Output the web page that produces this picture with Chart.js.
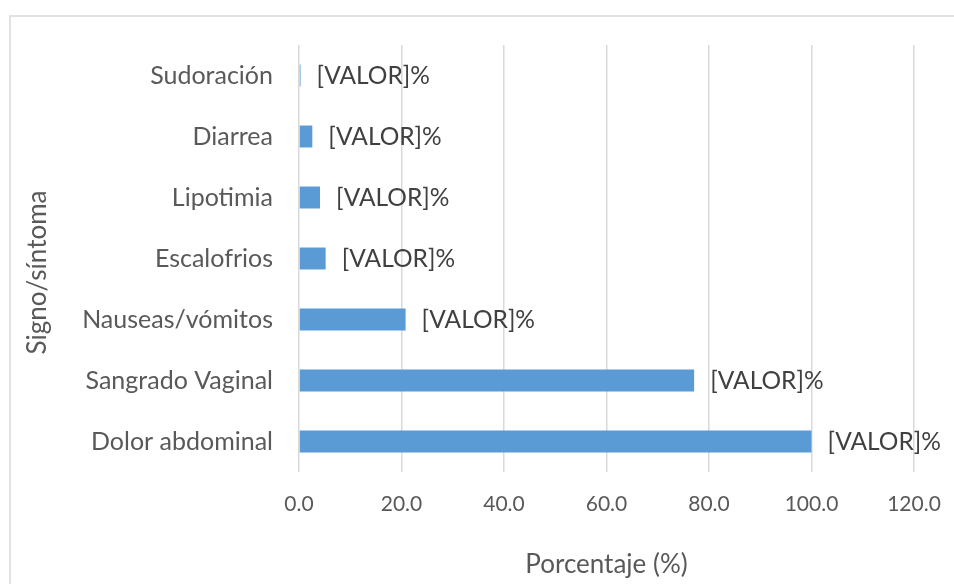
<!DOCTYPE html>
<html>
<head>
<meta charset="utf-8">
<script src="https://cdn.jsdelivr.net/npm/chart.js@4.4.1/dist/chart.umd.min.js"></script>
<style>
  html, body { margin: 0; padding: 0; background: #fff; }
  #wrap { width: 954px; height: 584px; }
</style>
</head>
<body>
<div id="wrap"><canvas id="sintomas"></canvas></div>
<script>
const categorias = ['Sudoración', 'Diarrea', 'Lipotimia', 'Escalofrios', 'Nauseas/vómitos', 'Sangrado Vaginal', 'Dolor abdominal'];
const porcentajes = [0.3, 2.6, 4.1, 5.2, 20.8, 77.1, 100.0];
const etiquetaValor = '[VALOR]%';
const tituloY = 'Signo/síntoma';
const ejeX = { min: 0, max: 120, paso: 20 };

const FONT = 'Lato';

// marco gris del gráfico (como en Excel)
const marco = {
  id: 'marco',
  beforeDraw(chart) {
    const c = chart.ctx;
    c.save();
    c.fillStyle = '#fff';
    c.fillRect(0, 0, chart.width, chart.height);
    c.strokeStyle = '#d9d9d9';
    c.lineWidth = 1.5;
    c.strokeRect(10, 16, chart.width + 20, chart.height + 20);
    c.restore();
  }
};

// etiquetas "[VALOR]%" al final de cada barra + título del eje Y
const etiquetas = {
  id: 'etiquetas',
  afterDatasetsDraw(chart) {
    const c = chart.ctx;
    const meta = chart.getDatasetMeta(0);
    c.save();
    c.font = '24.5px ' + FONT;
    c.fillStyle = '#404040';
    c.textBaseline = 'middle';
    c.textAlign = 'left';
    meta.data.forEach(bar => {
      c.fillText(etiquetaValor, bar.x + 16, bar.y + 1);
    });
    c.restore();

    // título vertical, algo más abajo del centro como en el original
    const area = chart.chartArea;
    c.save();
    c.font = '26px ' + FONT;
    c.fillStyle = '#595959';
    c.textAlign = 'center';
    c.textBaseline = 'middle';
    c.translate(38, (area.top + area.bottom) / 2 + 14);
    c.rotate(-Math.PI / 2);
    c.fillText(tituloY, 0, 0);
    c.restore();
  }
};

const ctx = document.getElementById('sintomas').getContext('2d');

const chart = new Chart(ctx, {
  type: 'bar',
  data: {
    labels: categorias,
    datasets: [{
      label: 'Porcentaje',
      data: porcentajes,
      backgroundColor: '#5b9bd5',
      borderWidth: 0,
      categoryPercentage: 1,
      barPercentage: 0.36
    }]
  },
  options: {
    indexAxis: 'y',
    responsive: true,
    maintainAspectRatio: false,
    animation: false,
    layout: { padding: { top: 45, right: 40, left: 0, bottom: 0 } },
    plugins: {
      legend: { display: false },
      tooltip: { enabled: false }
    },
    scales: {
      x: {
        min: ejeX.min,
        max: ejeX.max,
        ticks: {
          stepSize: ejeX.paso,
          padding: 20,
          color: '#595959',
          font: { family: FONT, size: 21 },
          callback: v => v.toFixed(1)
        },
        grid: { color: '#d9d9d9', lineWidth: 1.5, drawTicks: false },
        border: { display: false },
        title: {
          display: true,
          text: 'Porcentaje (%)',
          color: '#595959',
          font: { family: FONT, size: 26 },
          padding: { top: 0, bottom: 4 }
        },
        afterFit(scale) {
          scale.height = 112;
          scale.paddingLeft = 0;
          scale.paddingRight = 0;
        }
      },
      y: {
        ticks: {
          padding: 18,
          color: '#595959',
          font: { family: FONT, size: 25 }
        },
        grid: { display: false },
        border: { display: false },
        title: { display: false },
        afterFit(scale) { scale.width = 299; }
      }
    }
  },
  plugins: [marco, etiquetas]
});
</script>
</body>
</html>
